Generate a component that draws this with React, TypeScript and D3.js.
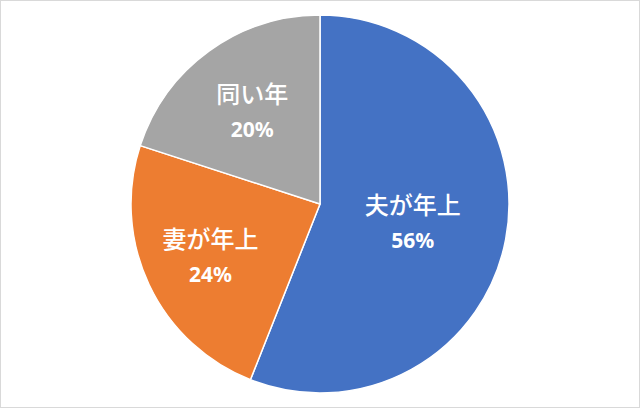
import * as d3 from 'd3';
import { useEffect, useRef } from 'react';

const categories = ['夫が年上', '妻が年上', '同い年'];
const shares = [56, 24, 20];
const colors = ['#4472C4', '#ED7D31', '#A5A5A5'];
// how far out each label sits, as a share of the radius (Excel "best fit")
const labelOffsets = [0.5, 0.64, 0.61];

const width = 640;
const height = 408;

export default function App() {
  const svgRef = useRef<SVGSVGElement | null>(null);

  useEffect(() => {
    const svg = d3.select(svgRef.current);
    svg.selectAll('*').remove();

    svg.append('rect')
      .attr('x', 0.5)
      .attr('y', 0.5)
      .attr('width', width - 1)
      .attr('height', height - 1)
      .attr('fill', '#fff')
      .attr('stroke', '#d9d9d9');

    const cx = 320;
    const cy = 204;
    const radius = 189;

    const pie = d3.pie<number>().sort(null).value((d) => d);
    const arcs = pie(shares);
    const arc = d3.arc<d3.PieArcDatum<number>>().innerRadius(0).outerRadius(radius);

    const g = svg.append('g').attr('transform', `translate(${cx},${cy})`);

    g.selectAll('path')
      .data(arcs)
      .enter()
      .append('path')
      .attr('d', arc)
      .attr('fill', (_, i) => colors[i])
      .attr('stroke', '#fff')
      .attr('stroke-width', 1.5)
      .attr('stroke-linejoin', 'round');

    arcs.forEach((a, i) => {
      const r = radius * labelOffsets[i];
      const labelArc = d3.arc<d3.PieArcDatum<number>>().innerRadius(r).outerRadius(r);
      const [lx, ly] = labelArc.centroid(a);
      const t = g.append('g').attr('transform', `translate(${lx},${ly})`);
      t.append('text')
        .attr('y', -18)
        .attr('text-anchor', 'middle')
        .attr('dominant-baseline', 'central')
        .attr('fill', '#fff')
        .style('font-family', '"Noto Sans CJK JP", "Noto Sans", sans-serif')
        .style('font-size', '24px')
        .style('font-weight', 500)
        .text(categories[i]);
      t.append('text')
        .attr('y', 18)
        .attr('text-anchor', 'middle')
        .attr('dominant-baseline', 'central')
        .attr('fill', '#fff')
        .style('font-family', '"Noto Sans", "Noto Sans CJK JP", sans-serif')
        .style('font-size', '21px')
        .style('font-weight', 700)
        .text(`${a.data}%`);
    });
  }, []);

  return (
    <div style={{ position: 'fixed', left: 0, top: 0 }}>
      <svg ref={svgRef} width={width} height={height} style={{ display: 'block' }} />
    </div>
  );
}
